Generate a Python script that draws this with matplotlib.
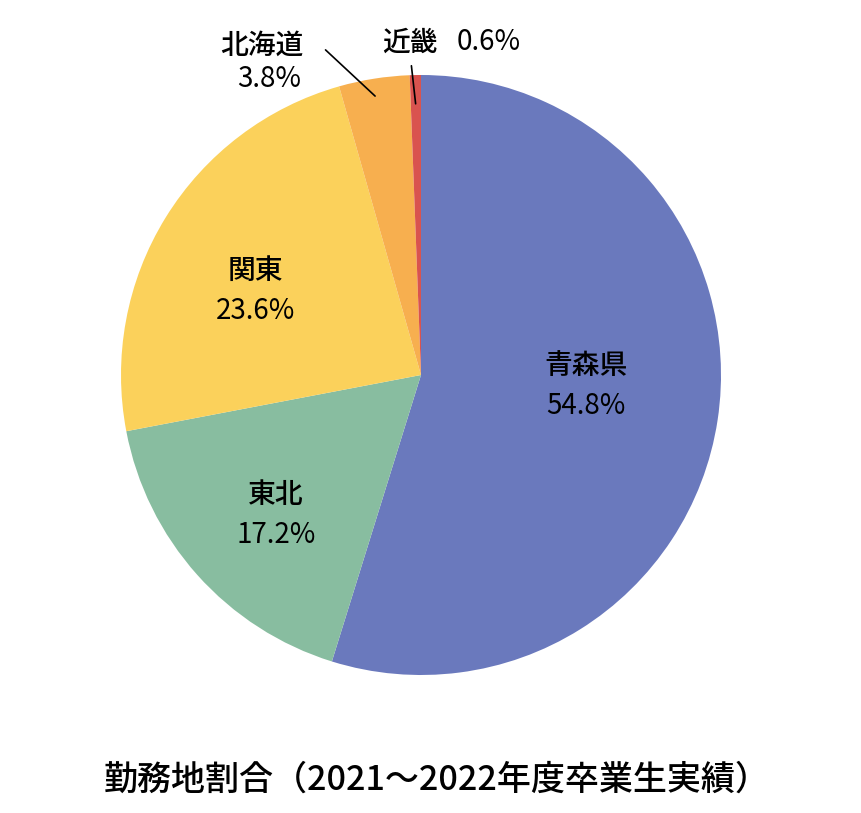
import numpy as np
import matplotlib.pyplot as plt

plt.rcParams['font.family'] = ['Noto Sans CJK JP', 'DejaVu Sans']

names = ['青森県', '東北', '関東', '北海道', '近畿']
shares = [54.8, 17.2, 23.6, 3.8, 0.6]
colors = ['#6A79BD', '#88BDA0', '#FBD15B', '#F7AF4F', '#D9534F']
title = '勤務地割合（2021～2022年度卒業生実績）'

fig = plt.figure(figsize=(8.61, 8.13), dpi=100)
ax = fig.add_axes([121 / 861, 138 / 813, 600 / 861, 600 / 813])
wedges, _ = ax.pie(shares, colors=colors, startangle=90, counterclock=False,
                   radius=1, wedgeprops=dict(linewidth=0))
ax.set_xlim(-1, 1)
ax.set_ylim(-1, 1)
ax.set_aspect('equal')
ax.axis('off')

fs = 20

# inside labels: radius / angle offset from wedge middle
inside = {0: (0.55, 5.0), 1: (0.67, 2.0), 2: (0.62, 4.5)}
for i, (r, off) in inside.items():
    w = wedges[i]
    mid = np.deg2rad((w.theta1 + w.theta2) / 2 + off)
    x, y = r * np.cos(mid), r * np.sin(mid)
    ax.text(x, y + 0.065, names[i], ha='center', va='center', fontsize=fs, fontweight='medium')
    ax.text(x, y - 0.07, f'{shares[i]}%', ha='center', va='center', fontsize=fs)

# 北海道 with leader line
w = wedges[3]
mid = np.deg2rad((w.theta1 + w.theta2) / 2)
ax.annotate('', xy=(0.935 * np.cos(mid), 0.935 * np.sin(mid)),
            xytext=(-0.325, 1.09),
            arrowprops=dict(arrowstyle='-', color='black', lw=1.2))
ax.text(-0.53, 1.1, names[3], ha='center', va='center', fontsize=fs, fontweight='medium')
ax.text(-0.505, 0.985, f'{shares[3]}%', ha='center', va='center', fontsize=fs)

# 近畿 with leader line
w = wedges[4]
mid = np.deg2rad((w.theta1 + w.theta2) / 2)
ax.annotate('', xy=(0.895 * np.cos(mid), 0.895 * np.sin(mid)),
            xytext=(-0.033, 1.04),
            arrowprops=dict(arrowstyle='-', color='black', lw=1.2))
ax.text(-0.037, 1.11, names[4], ha='center', va='center', fontsize=fs, fontweight='medium')
ax.text(0.225, 1.11, f'{shares[4]}%', ha='center', va='center', fontsize=fs)

fig.text(437 / 861, 1 - 780 / 813, title, ha='center', va='center', fontsize=24.5,
         fontweight='medium')

fig.savefig('out.png', dpi=100)
